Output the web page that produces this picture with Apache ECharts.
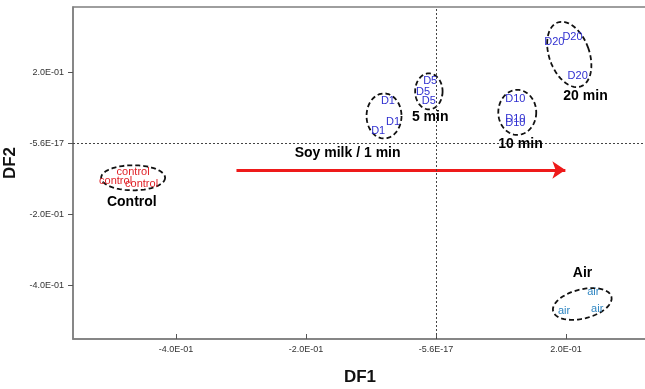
<!DOCTYPE html>
<html>
<head>
<meta charset="utf-8">
<script src="https://cdn.jsdelivr.net/npm/echarts@6/dist/echarts.min.js"></script>
<style>
html,body{margin:0;padding:0;background:#fff;}
#chart{width:645px;height:389px;}
</style>
</head>
<body>
<div id="chart"></div>
<script>
// ---- data ----
const tickValues = [-0.4, -0.2, 0, 0.2];
const xTickLabels = ['-4.0E-01', '-2.0E-01', '-5.6E-17', '2.0E-01'];
const yTickLabels = ['-4.0E-01', '-2.0E-01', '-5.6E-17', '2.0E-01'];

const controlPts = [[-0.466, -0.082], [-0.493, -0.105], [-0.453, -0.115]];
const controlNames = ['control', 'control', 'control'];
const d1Pts = [[-0.074, 0.120], [-0.066, 0.061], [-0.089, 0.035]];
const d1Names = ['D1', 'D1', 'D1'];
const d5Pts = [[-0.009, 0.176], [-0.020, 0.143], [-0.011, 0.120]];
const d5Names = ['D5', 'D5', 'D5'];
const d10Pts = [[0.122, 0.126], [0.122, 0.068], [0.122, 0.056]];
const d10Names = ['D10', 'D10', 'D10'];
const d20Pts = [[0.182, 0.285], [0.210, 0.299], [0.218, 0.190]];
const d20Names = ['D20', 'D20', 'D20'];
const airPts = [[0.242, -0.419], [0.197, -0.472], [0.248, -0.466]];
const airNames = ['air', 'air', 'air'];

// group outlines: [centerX, centerY, radiusX, radiusY, rotationDeg]
const ellipses = [
  [-0.466, -0.097, 0.0492, 0.0352, 0],
  [-0.080, 0.077, 0.0269, 0.0633, 0],
  [-0.011, 0.146, 0.0211, 0.0506, 0],
  [0.125, 0.087, 0.0292, 0.0633, 0],
  [0.205, 0.250, 0.0308, 0.0956, -20],
  [0.225, -0.452, 0.0462, 0.0410, -14]
];

const groupLabels = ['Control', '5 min', '10 min', '20 min', 'Air', 'Soy milk / 1 min'];
const groupLabelPos = [[-0.468, -0.165], [-0.009, 0.074], [0.130, -0.002], [0.230, 0.133], [0.2255, -0.364], [-0.136, -0.027]];

const arrowFrom = [-0.307, -0.075];
const arrowTo = [0.199, -0.075];

const FONT = "'Liberation Sans', Arial, sans-serif";

function textSeries(name, pts, names, color) {
  return {
    name: name,
    type: 'scatter',
    symbolSize: 1,
    itemStyle: { color: 'rgba(0,0,0,0)', opacity: 1 },
    data: pts.map((p, i) => ({ value: p, name: names[i] })),
    label: {
      show: true,
      position: 'inside',
      formatter: '{b}',
      color: color,
      opacity: 1,
      textBorderWidth: 0,
      fontSize: 11,
      fontFamily: FONT
    },
    emphasis: { disabled: true },
    silent: true,
    z: 4
  };
}

const chart = echarts.init(document.getElementById('chart'), null, { renderer: 'canvas' });

const option = {
  animation: false,
  backgroundColor: '#fff',
  grid: {
    left: 73, top: 7, right: -2, bottom: 50,
    outerBoundsMode: 'none',
    containLabel: false,
    show: true, borderColor: '#7f7f7f', borderWidth: 1.5, backgroundColor: 'transparent'
  },
  xAxis: {
    type: 'value',
    min: -0.5585, max: 0.3246,
    name: 'DF1',
    nameLocation: 'middle',
    nameGap: 30,
    nameTextStyle: { fontSize: 17, fontWeight: 'bold', color: '#111', fontFamily: FONT },
    axisLine: { show: true, onZero: false, lineStyle: { color: '#7f7f7f', width: 1.5 } },
    axisTick: { show: true, inside: true, length: 5, customValues: tickValues, lineStyle: { color: '#555' } },
    axisLabel: {
      customValues: tickValues,
      margin: 6,
      fontSize: 9, color: '#333', fontFamily: FONT,
      formatter: v => xTickLabels[tickValues.findIndex(t => Math.abs(t - v) < 1e-9)]
    },
    splitLine: { show: false }
  },
  yAxis: {
    type: 'value',
    min: -0.5505, max: 0.3834,
    name: 'DF2',
    nameLocation: 'middle',
    nameGap: 30,
    nameRotate: 90,
    nameTextStyle: { fontSize: 17, fontWeight: 'bold', color: '#111', fontFamily: FONT, padding: [0, 0, 0, 20] },
    axisLine: { show: true, onZero: false, lineStyle: { color: '#7f7f7f', width: 1.5 } },
    axisTick: { show: true, inside: false, length: 5, customValues: tickValues, lineStyle: { color: '#555' } },
    axisLabel: {
      customValues: tickValues,
      margin: 9,
      fontSize: 9, color: '#333', fontFamily: FONT,
      formatter: v => yTickLabels[tickValues.findIndex(t => Math.abs(t - v) < 1e-9)]
    },
    splitLine: { show: false }
  },
  series: [
    {
      name: 'refLines',
      type: 'scatter',
      data: [],
      markLine: {
        silent: true,
        symbol: 'none',
        label: { show: false },
        lineStyle: { color: '#444', width: 1, type: [2, 2] },
        data: [{ xAxis: 0 }, { yAxis: 0 }]
      },
      z: 1
    },
    {
      name: 'outlines',
      type: 'custom',
      coordinateSystem: 'cartesian2d',
      data: ellipses,
      encode: { x: 0, y: 1 },
      silent: true,
      z: 3,
      renderItem: function (params, api) {
        const c = api.coord([api.value(0), api.value(1)]);
        const s = api.size([api.value(2), api.value(3)]);
        const t = api.value(4) * Math.PI / 180;
        const pts = [];
        for (let k = 0; k < 72; k++) {
          const phi = k / 72 * Math.PI * 2;
          const ex = s[0] * Math.cos(phi);
          const ey = s[1] * Math.sin(phi);
          pts.push([c[0] + ex * Math.cos(t) - ey * Math.sin(t), c[1] + ex * Math.sin(t) + ey * Math.cos(t)]);
        }
        return {
          type: 'polygon',
          shape: { points: pts },
          style: { fill: 'none', stroke: '#111', lineWidth: 1.8, lineDash: [5, 3] }
        };
      }
    },
    {
      name: 'arrow',
      type: 'lines',
      coordinateSystem: 'cartesian2d',
      silent: true,
      symbol: ['none', 'arrow'],
      symbolSize: 13,
      lineStyle: { color: '#ee1a1a', width: 3, opacity: 1 },
      data: [{ coords: [arrowFrom, arrowTo] }],
      z: 2
    },
    textSeries('control', controlPts, controlNames, '#e01f25'),
    textSeries('D1', d1Pts, d1Names, '#2f2fd0'),
    textSeries('D5', d5Pts, d5Names, '#2f2fd0'),
    textSeries('D10', d10Pts, d10Names, '#2f2fd0'),
    textSeries('D20', d20Pts, d20Names, '#2f2fd0'),
    textSeries('air', airPts, airNames, '#2f86c2'),
    {
      name: 'groupLabels',
      type: 'scatter',
      symbolSize: 1,
      itemStyle: { color: 'rgba(0,0,0,0)', opacity: 1 },
      silent: true,
      emphasis: { disabled: true },
      z: 5,
      data: groupLabelPos.map((p, i) => ({ value: p, name: groupLabels[i] })),
      label: {
        show: true,
        position: 'inside',
        formatter: '{b}',
        color: '#000',
        opacity: 1,
        textBorderWidth: 0,
        fontSize: 14,
        fontWeight: 'bold',
        fontFamily: FONT
      }
    }
  ]
};

chart.setOption(option);
</script>
</body>
</html>
